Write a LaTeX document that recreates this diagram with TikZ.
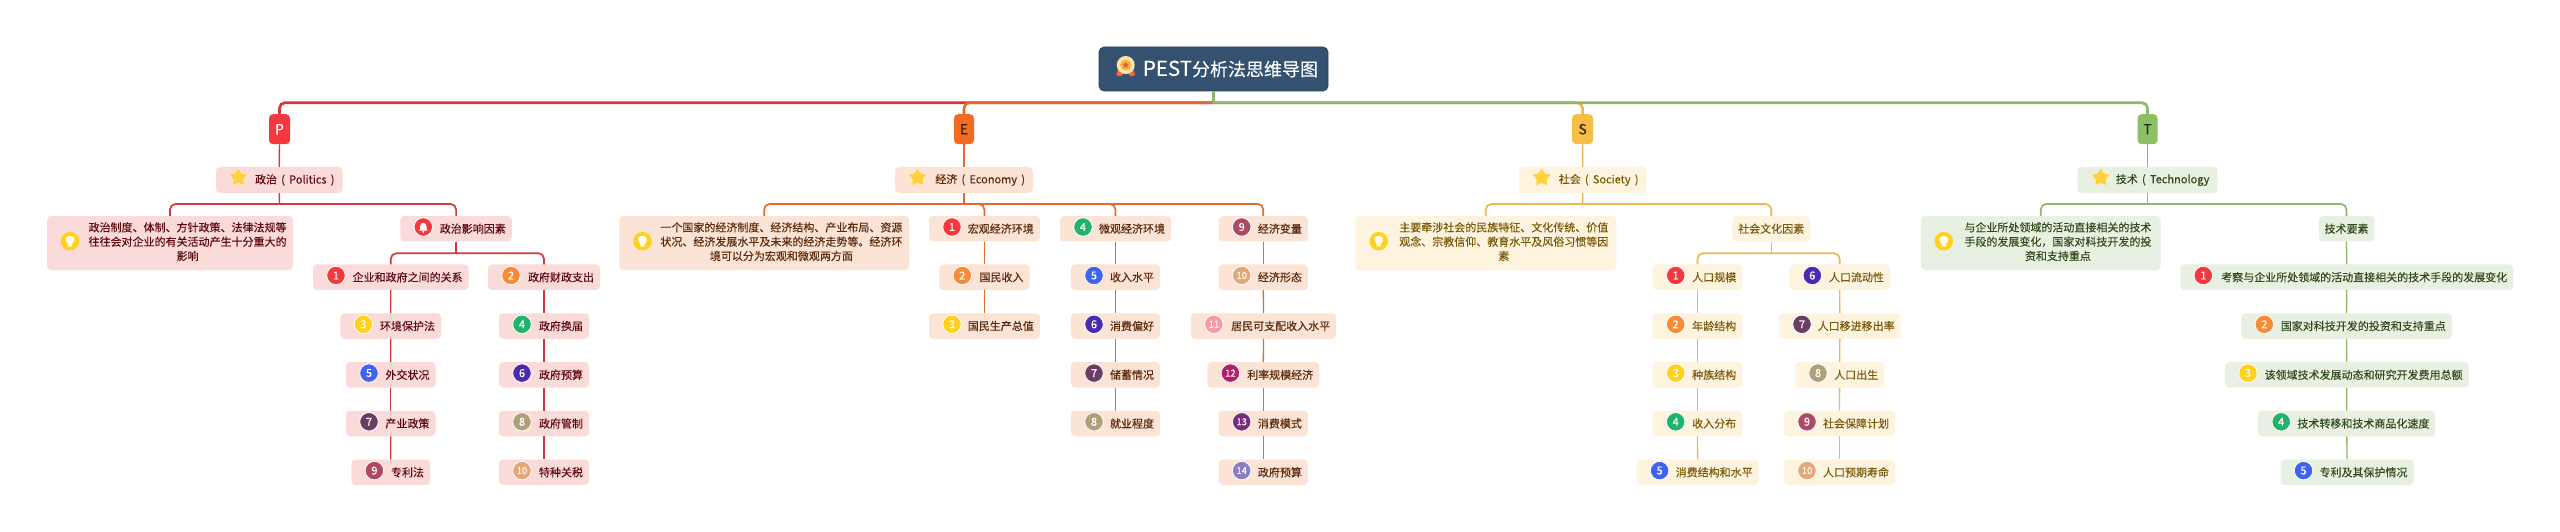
\documentclass[tikz,border=0pt]{standalone}
\usepackage{fontspec}
\setmainfont{Noto Sans CJK SC}[FakeBold=0.12]
\usetikzlibrary{shapes.geometric}
\definecolor{ic1}{HTML}{F5383F}\definecolor{ic2}{HTML}{F98B36}\definecolor{ic3}{HTML}{FFD11A}
\definecolor{ic4}{HTML}{1FB36B}\definecolor{ic5}{HTML}{4063EE}\definecolor{ic6}{HTML}{4A2BB0}
\definecolor{ic7}{HTML}{6B3D62}\definecolor{ic8}{HTML}{AFA077}\definecolor{ic9}{HTML}{AD4A63}
\definecolor{ic10}{HTML}{E2A878}\definecolor{ic11}{HTML}{F49BA8}\definecolor{ic12}{HTML}{B0206A}
\definecolor{ic13}{HTML}{7A2C7B}\definecolor{ic14}{HTML}{8C7CC4}
\definecolor{lp}{HTML}{D4383D}\definecolor{le}{HTML}{E56A2E}\definecolor{ls}{HTML}{EDB84F}\definecolor{lt}{HTML}{8DB86B}
\tikzset{
  base/.style={rounded corners=4pt,inner sep=0pt,font=\fontsize{11}{14.3}\selectfont},
  pb/.style={base,fill={rgb,255:red,251;green,218;blue,218},text={rgb,255:red,92;green,10;blue,14}},
  eb/.style={base,fill={rgb,255:red,251;green,227;blue,214},text={rgb,255:red,90;green,42;blue,11}},
  sb/.style={base,fill={rgb,255:red,253;green,243;blue,222},text={rgb,255:red,122;green,90;blue,10}},
  tb/.style={base,fill={rgb,255:red,232;green,240;blue,225},text={rgb,255:red,47;green,74;blue,28}},
  numicon/.style={circle,draw=white,line width=0.8pt,minimum size=18.5pt,inner sep=0pt,text=white,font=\fontsize{11}{11}\selectfont},
  staricon/.style={star,star points=5,star point ratio=2,fill={rgb,255:red,255;green,208;blue,64},draw={rgb,255:red,255;green,240;blue,190},line width=0.6pt,minimum size=21pt,inner sep=0pt,rounded corners=1.5pt},
  bus/.style={line width=#1,rounded corners=5.5pt},
  rootbox/.style={rounded corners=5pt,fill={rgb,255:red,52;green,82;blue,111},draw={rgb,255:red,40;green,66;blue,92},line width=0.7pt,inner sep=0pt,text=white,font=\fontsize{18}{20}\selectfont},
  headbox/.style={rounded corners=4pt,inner sep=0pt,font=\fontsize{14}{16}\selectfont}
}
% name, x1, x2, cy, style, icon number, text
\newcommand{\leaf}[7]{%
  \pgfmathsetmacro{\bw}{#3-#2}\pgfmathsetmacro{\bx}{(#2+#3)/2}\pgfmathsetmacro{\ix}{#2+23}\pgfmathsetmacro{\iy}{#4-1.7}%
  \node[#5,minimum width=\bw pt,minimum height=25.5pt] (#1) at (\bx,#4) {\makebox[\bw pt][r]{#7\hspace*{6pt}}};%
  \node[numicon,fill=ic#6] (#1-i) at (\ix,\iy) {\ifnum#6>9 \fontsize{9.5}{10}\selectfont\fi #6};}
% name, x1, x2, style, text start, bulb x, lines
\newcommand{\note}[7]{%
  \pgfmathsetmacro{\bw}{#3-#2}\pgfmathsetmacro{\bx}{(#2+#3)/2}\pgfmathsetmacro{\tl}{#5-#2}%
  \node[#4,minimum width=\bw pt,minimum height=54pt] (#1) at (\bx,243) {\makebox[\bw pt][l]{\hspace*{\tl pt}\begin{tabular}{@{}c@{}}#7\end{tabular}}};%
  \begin{scope}[shift={(#6,241.2)}]
    \node[circle,fill=ic3,minimum size=18.5pt,inner sep=0pt] (#1-i) at (0,0) {};
    \fill[white!92!ic3] (-2,5.3) -- (2,5.3) -- (2.2,2.5) .. controls (5.5,0.5) and (5.5,-5.5) .. (0,-5.5) .. controls (-5.5,-5.5) and (-5.5,0.5) .. (-2.2,2.5) -- cycle;
  \end{scope}}
% name, x1, x2, style, text, star x
\newcommand{\topic}[6]{%
  \pgfmathsetmacro{\bw}{#3-#2}\pgfmathsetmacro{\bx}{(#2+#3)/2}%
  \node[#4,minimum width=\bw pt,minimum height=26pt] (#1) at (\bx,180) {\makebox[\bw pt][r]{#5\hspace*{8pt}}};%
  \node[staricon] (#1-i) at (#6,177.7) {};}
\newcommand{\gp}{\hspace{4.2pt}}
\def\ra{277.2}\def\rb{326}\def\rc{374.8}\def\rd{423.5}\def\re{472.3}\def\rz{228.7}
\begin{document}
\begin{tikzpicture}[x=1pt,y=-1pt]
\useasboundingbox (0,0) rectangle (2560,532);
\fill[white] (0,0) rectangle (2560,532);
% root
\node[rootbox,minimum width=229pt,minimum height=44pt] (root) at (1213.5,69) {\makebox[229pt][r]{{\fontsize{20.5}{20}\selectfont PEST}分析法思维导图\hspace*{10pt}}};
\begin{scope}[shift={(1125.7,66.5)}]
  \fill[fill={rgb,255:red,240;green,105;blue,60}] (-9.5,8) .. controls (-7,11) and (-3.5,10) .. (-2.5,7) -- (2.5,7) .. controls (3.5,10) and (7,11) .. (9.5,8) -- (6,-2) -- (-6,-2) -- cycle;
  \node[circle,fill={rgb,255:red,255;green,226;blue,170},minimum size=18pt,inner sep=0pt] (medal) at (0,-1.5) {};
  \node[circle,fill={rgb,255:red,250;green,180;blue,60},minimum size=11pt,inner sep=0pt] (medalcore) at (0,-1.5) {};
  \node[star,star points=5,star point ratio=2.2,fill={rgb,255:red,232;green,90;blue,50},minimum size=7pt,inner sep=0pt] (medalstar) at (0,-1.5) {};
\end{scope}
% heads
\node[headbox,fill=ic1,text=white,minimum width=21pt,minimum height=30pt] (P) at (279.5,129.2) {P};
\node[headbox,fill={rgb,255:red,242;green,107;blue,33},text={rgb,255:red,60;green,30;blue,10},minimum width=20pt,minimum height=30pt] (E) at (964,129.2) {E};
\node[headbox,fill={rgb,255:red,247;green,190;blue,71},text={rgb,255:red,60;green,45;blue,10},minimum width=21pt,minimum height=30pt] (S) at (1582.6,129.2) {S};
\node[headbox,fill={rgb,255:red,141;green,191;blue,103},text={rgb,255:red,25;green,45;blue,15},minimum width=20pt,minimum height=30pt] (T) at (2147.5,129.2) {T};
% topics
\topic{tp}{216}{342.5}{pb}{政治\gp(\gp Politics\gp)}{238.4}
\topic{te}{895}{1033}{eb}{经济\gp(\gp Economy\gp)}{917.6}
\topic{ts}{1519}{1646.5}{sb}{社会\gp(\gp Society\gp)}{1541.7}
\topic{tt}{2077.6}{2217.4}{tb}{技术\gp(\gp Technology}{2100.8}
% notes
\note{np}{47}{293}{pb}{88.6}{70}{政治制度、体制、方针政策、法律法规等\\往往会对企业的有关活动产生十分重大的\\影响}
\note{ne}{619.3}{909}{eb}{660.4}{642.5}{一个国家的经济制度、经济结构、产业布局、资源\\状况、经济发展水平及未来的经济走势等。经济环\\境可以分为宏观和微观两方面}
\note{ns}{1355.3}{1616.3}{sb}{1399.3}{1378.7}{主要牵涉社会的民族特征、文化传统、价值\\观念、宗教信仰、教育水平及风俗习惯等因\\素}
\note{nt}{1921}{2160.5}{tb}{1964.4}{1943.8}{与企业所处领域的活动直接相关的技术\\手段的发展变化，国家对科技开发的投\\资和支持重点}
% P
\node[pb,minimum width=111.4pt,minimum height=25.5pt] (pf) at (456.1,\rz) {\makebox[111.4pt][r]{政治影响因素\hspace*{6pt}}};
\begin{scope}[shift={(423.3,227)}]
  \node[circle,fill=ic1,draw=white,line width=0.8pt,minimum size=18.5pt,inner sep=0pt] (pf-i) at (0,0) {};
  \fill[white] (-4.2,3.6) -- (4.2,3.6) .. controls (3,2.5) and (3.2,1) .. (3.2,-0.5) .. controls (3.2,-5.5) and (-3.2,-5.5) .. (-3.2,-0.5) .. controls (-3.2,1) and (-3,2.5) .. (-4.2,3.6) -- cycle;
  \fill[white] (0,4.8) circle (1.1pt);
\end{scope}
\leaf{p1}{313}{468.6}{\ra}{pb}{1}{企业和政府之间的关系}
\leaf{p3}{340.4}{441}{\rb}{pb}{3}{环境保护法}
\leaf{p5}{346}{435.5}{\rc}{pb}{5}{外交状况}
\leaf{p7}{346}{435.5}{\rd}{pb}{7}{产业政策}
\leaf{p9}{351.4}{430}{\re}{pb}{9}{专利法}
\leaf{p2}{488}{600}{\ra}{pb}{2}{政府财政支出}
\leaf{p4}{499}{589}{\rb}{pb}{4}{政府换届}
\leaf{p6}{499}{589}{\rc}{pb}{6}{政府预算}
\leaf{p8}{499}{589}{\rd}{pb}{8}{政府管制}
\leaf{p10}{499}{589}{\re}{pb}{10}{特种关税}
% E
\leaf{e1}{929}{1039.8}{\rz}{eb}{1}{宏观经济环境}
\leaf{e2}{939.3}{1029.5}{\ra}{eb}{2}{国民收入}
\leaf{e3}{929}{1039.8}{\rb}{eb}{3}{国民生产总值}
\leaf{e4}{1060}{1171}{\rz}{eb}{4}{微观经济环境}
\leaf{e5}{1071}{1160}{\ra}{eb}{5}{收入水平}
\leaf{e6}{1071}{1160}{\rb}{eb}{6}{消费偏好}
\leaf{e7}{1071}{1160}{\rc}{eb}{7}{储蓄情况}
\leaf{e8}{1071}{1160}{\rd}{eb}{8}{就业程度}
\leaf{e9}{1218.7}{1307.9}{\rz}{eb}{9}{经济变量}
\leaf{e10}{1218.7}{1307.9}{\ra}{eb}{10}{经济形态}
\leaf{e11}{1190.9}{1336.2}{\rb}{eb}{11}{居民可支配收入水平}
\leaf{e12}{1207.4}{1319.2}{\rc}{eb}{12}{利率规模经济}
\leaf{e13}{1218.7}{1307.9}{\rd}{eb}{13}{消费模式}
\leaf{e14}{1218.7}{1307.9}{\re}{eb}{14}{政府预算}
% S
\node[sb,minimum width=77.7pt,minimum height=25.5pt] (sf) at (1771.2,\rz) {社会文化因素};
\leaf{s1}{1652.7}{1742.2}{\ra}{sb}{1}{人口规模}
\leaf{s2}{1652.7}{1742.2}{\rb}{sb}{2}{年龄结构}
\leaf{s3}{1652.7}{1742.2}{\rc}{sb}{3}{种族结构}
\leaf{s4}{1652.7}{1742.2}{\rd}{sb}{4}{收入分布}
\leaf{s5}{1636.6}{1758.7}{\re}{sb}{5}{消费结构和水平}
\leaf{s6}{1789.3}{1890}{\ra}{sb}{6}{人口流动性}
\leaf{s7}{1779}{1900.7}{\rb}{sb}{7}{人口移进移出率}
\leaf{s8}{1795}{1884.2}{\rc}{sb}{8}{人口出生}
\leaf{s9}{1784}{1895}{\rd}{sb}{9}{社会保障计划}
\leaf{s10}{1784}{1895}{\re}{sb}{10}{人口预期寿命}
% T
\node[tb,minimum width=55.5pt,minimum height=25.5pt] (tf) at (2346.5,\rz) {技术要素};
\leaf{t1}{2180.3}{2513.2}{\ra}{tb}{1}{考察与企业所处领域的活动直接相关的技术手段的发展变化}
\leaf{t2}{2241.3}{2451.8}{\rb}{tb}{2}{国家对科技开发的投资和支持重点}
\leaf{t3}{2225}{2468.6}{\rc}{tb}{3}{该领域技术发展动态和研究开发费用总额}
\leaf{t4}{2258.2}{2435.4}{\rd}{tb}{4}{技术转移和技术商品化速度}
\leaf{t5}{2280.5}{2413.5}{\re}{tb}{5}{专利及其保护情况}
% main bus
\coordinate (j) at (1213.5,102.7);
\draw[lp,bus=2.7pt] (j) -- (j -| P.north) -- (P.north);
\draw[le,bus=2.7pt] (j) -- (j -| E.north) -- (E.north);
\draw[ls,bus=2.7pt] (j) -- (j -| S.north) -- (S.north);
\draw[lt,bus=2.7pt] (j) -- (j -| T.north) -- (T.north);
\draw[lt,line width=2.2pt] (root.south) -- (j);
% head to topic
\draw[lp,line width=1.4pt] (P.south) -- (tp.north);
\draw[le,line width=1.4pt] (E.south) -- (te.north);
\draw[ls,line width=1.4pt] (S.south) -- (ts.north);
\draw[lt,line width=1.4pt] (T.south) -- (tt.north);
% P
\coordinate (jp) at (279.5,204);
\draw[lp,line width=1.4pt] (tp.south) -- (jp);
\draw[lp,bus=1.7pt] (jp) -- (jp -| np.north) -- (np.north);
\draw[lp,bus=1.7pt] (jp) -- (jp -| pf.north) -- (pf.north);
\coordinate (jpf) at (456.1,253.3);
\draw[lp,line width=1.4pt] (pf.south) -- (jpf);
\draw[lp,bus=1.7pt] (jpf) -- (jpf -| p1.north) -- (p1.north);
\draw[lp,bus=1.7pt] (jpf) -- (jpf -| p2.north) -- (p2.north);
\foreach \a/\b in {p1/p3,p3/p5,p5/p7,p7/p9,p2/p4,p4/p6,p6/p8,p8/p10} \draw[lp,line width=1.3pt] (\a.south) -- (\b.north);
% E
\coordinate (je) at (964,204);
\draw[le,line width=1.4pt] (te.south) -- (je);
\foreach \n in {ne,e1,e4,e9} \draw[le,bus=1.7pt] (je) -- (je -| \n.north) -- (\n.north);
\foreach \a/\b in {e1/e2,e2/e3,e4/e5,e5/e6,e6/e7,e7/e8,e9/e10,e10/e11,e11/e12,e12/e13,e13/e14} \draw[le,line width=1.3pt] (\a.south) -- (\b.north);
% S
\coordinate (js) at (1582.7,204);
\draw[ls,line width=1.4pt] (ts.south) -- (js);
\draw[ls,bus=1.7pt] (js) -- (js -| ns.north) -- (ns.north);
\draw[ls,bus=1.7pt] (js) -- (js -| sf.north) -- (sf.north);
\coordinate (jsf) at (1771.2,253.3);
\draw[ls,line width=1.4pt] (sf.south) -- (jsf);
\draw[ls,bus=1.7pt] (jsf) -- (jsf -| s1.north) -- (s1.north);
\draw[ls,bus=1.7pt] (jsf) -- (jsf -| s6.north) -- (s6.north);
\foreach \a/\b in {s1/s2,s2/s3,s3/s4,s4/s5,s6/s7,s7/s8,s8/s9,s9/s10} \draw[ls,line width=1.3pt] (\a.south) -- (\b.north);
% T
\coordinate (jt) at (2147.5,204);
\draw[lt,line width=1.4pt] (tt.south) -- (jt);
\draw[lt,bus=1.7pt] (jt) -- (jt -| nt.north) -- (nt.north);
\draw[lt,bus=1.7pt] (jt) -- (jt -| tf.north) -- (tf.north);
\draw[lt,line width=1.3pt] (tf.south) -- (t1.north);
\foreach \a/\b in {t1/t2,t2/t3,t3/t4,t4/t5} \draw[lt,line width=1.3pt] (\a.south) -- (\b.north);
\end{tikzpicture}
\end{document}
